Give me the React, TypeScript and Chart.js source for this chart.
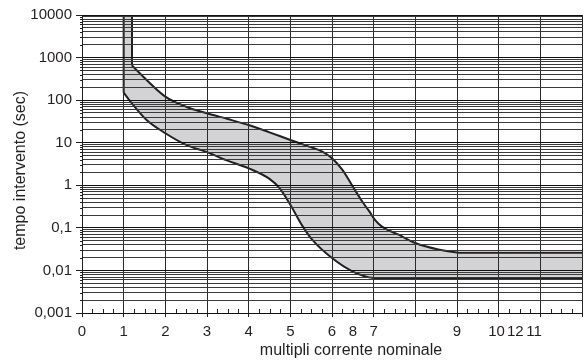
import React, { useEffect, useRef } from 'react';
import { Chart, registerables } from 'chart.js';

Chart.register(...registerables);

// Top of the chart (vertical parts of both boundaries start here)
const topValue = 10000;

// Upper boundary of the tripping band, from its knee (multiples of In -> seconds)
const upperX = [1.2, 1.47, 2.0, 2.5, 3.0, 3.5, 4.0, 4.5, 5.0, 5.45, 5.77, 6.0, 6.25, 6.5, 6.73, 6.9, 7.03, 7.2, 7.6, 8.0, 8.55, 9.0, 9.3, 12];
const upperY = [650, 356, 121, 70, 49, 36, 26, 17.5, 11.6, 8.1, 6.2, 4.3, 2.3, 0.93, 0.41, 0.24, 0.154, 0.107, 0.069, 0.044, 0.031, 0.0265, 0.026, 0.026];

// Lower boundary of the tripping band, from its knee
const lowerX = [1.0, 1.2, 1.55, 2.0, 2.5, 3.0, 3.46, 4.0, 4.5, 4.74, 5.0, 5.3, 5.53, 6.0, 6.5, 7.0, 7.6, 12];
const lowerY = [150, 83, 34, 16.7, 8.9, 6.0, 3.9, 2.5, 1.41, 0.855, 0.35, 0.107, 0.052, 0.0195, 0.0094, 0.0066, 0.0063, 0.0063];

// Y axis decades and their labels
const yDecades = [0.001, 0.01, 0.1, 1, 10, 100, 1000, 10000];
const yDecadeLabels = ['0,001', '0,01', '0,1', '1', '10', '100', '1000', '10000'];

// X axis labels as printed on the original (value -> text)
const xLabelValues = [0, 1, 2, 3, 4, 5, 6, 6.5, 7, 9, 9.95, 10.4, 10.85];
const xLabelTexts = ['0', '1', '2', '3', '4', '5', '6', '8', '7', '9', '10', '12', '11'];

const xMin = 0;
const xMax = 12;
const xMinorStep = 0.25;

const xTitle = 'multipli corrente nominale';
const yTitle = 'tempo intervento (sec)';

const INK = '#231f20';
const BAND = '#d3d3d5';
const FONT = '"Liberation Sans", Arial, Helvetica, sans-serif';

const toPoints = (xs: number[], ys: number[]) => xs.map((x, i) => ({ x, y: ys[i] }));

const isInt = (v: number) => Math.abs(v - Math.round(v)) < 1e-6;
const isDecade = (v: number) => {
  const l = Math.log10(v);
  return Math.abs(l - Math.round(l)) < 1e-6;
};

export default function App() {
  const ref = useRef<HTMLCanvasElement | null>(null);

  useEffect(() => {
    document.body.style.margin = '0';
    document.body.style.overflow = 'hidden';
    const canvas = ref.current;
    if (!canvas) return;

    const upper = toPoints(upperX, upperY);
    const lower = toPoints(lowerX, lowerY);
    const upperVert = [{ x: upperX[0], y: topValue }, { x: upperX[0], y: upperY[0] }];
    const lowerVert = [{ x: lowerX[0], y: topValue }, { x: lowerX[0], y: lowerY[0] }];
    const strip = lower.slice(0, 2);

    const minorCount = Math.round((xMax - xMin) / xMinorStep);
    const xQuarter: number[] = [];
    for (let i = 0; i <= minorCount; i++) xQuarter.push(xMin + i * xMinorStep);
    const xTickVals = Array.from(new Set([...xQuarter, ...xLabelValues])).sort((a, b) => a - b);

    const yTickVals: number[] = [];
    yDecades.forEach((d, i) => {
      yTickVals.push(d);
      if (i < yDecades.length - 1) for (let m = 2; m <= 9; m++) yTickVals.push(m * d);
    });

    const xLabelFor = (v: number) => {
      const i = xLabelValues.findIndex((lv) => Math.abs(lv - v) < 1e-6);
      return i >= 0 ? xLabelTexts[i] : '';
    };
    const yLabelFor = (v: number) => {
      const i = yDecades.findIndex((d) => Math.abs(Math.log10(d) - Math.log10(v)) < 1e-6);
      return i >= 0 ? yDecadeLabels[i] : '';
    };

    const decor = {
      id: 'decor',
      afterDraw(chart: any) {
        const { ctx, chartArea: a, scales } = chart;
        const xs = scales.x;
        const ys = scales.y;
        ctx.save();
        ctx.strokeStyle = INK;
        ctx.lineWidth = 1;
        ctx.beginPath();
        xQuarter.forEach((v) => {
          if (isInt(v)) return;
          const px = Math.round(xs.getPixelForValue(v)) + 0.5;
          ctx.moveTo(px, a.bottom);
          ctx.lineTo(px, a.bottom - 4);
        });
        yTickVals.forEach((v) => {
          if (isDecade(v)) return;
          const py = Math.round(ys.getPixelForValue(v)) + 0.5;
          ctx.moveTo(a.left - 2, py);
          ctx.lineTo(a.left, py);
        });
        ctx.stroke();

        ctx.fillStyle = INK;
        ctx.font = '16px ' + FONT;
        ctx.textAlign = 'center';
        ctx.textBaseline = 'alphabetic';
        ctx.fillText(xTitle, (a.left + a.right) / 2 + 19, 355);

        ctx.translate(25, (a.top + a.bottom) / 2 + 6.5);
        ctx.rotate(-Math.PI / 2);
        ctx.fillText(yTitle, 0, 0);
        ctx.restore();
      },
    };

    const stroke = {
      showLine: true,
      borderColor: INK,
      borderWidth: 2,
      pointRadius: 0,
      backgroundColor: BAND,
    };

    const chart = new Chart(canvas, {
      type: 'scatter',
      data: {
        datasets: [
          { ...stroke, data: upper, fill: 1, cubicInterpolationMode: 'monotone' },
          { ...stroke, data: lower, fill: false, cubicInterpolationMode: 'monotone' },
          { ...stroke, data: upperVert, fill: false, tension: 0 },
          { ...stroke, data: lowerVert, fill: false, tension: 0 },
          { ...stroke, data: strip, fill: 'end', borderWidth: 0, borderColor: 'rgba(0,0,0,0)', tension: 0 },
        ],
      },
      options: {
        responsive: false,
        animation: false,
        devicePixelRatio: 1,
        layout: { padding: { top: 15, right: 3, left: 0, bottom: 0 } },
        plugins: {
          legend: { display: false },
          tooltip: { enabled: false },
          filler: { drawTime: 'beforeDatasetsDraw' },
        },
        scales: {
          x: {
            type: 'linear',
            min: xMin,
            max: xMax,
            afterBuildTicks: (scale: any) => {
              scale.ticks = xTickVals.map((v) => ({ value: v }));
            },
            afterFit: (scale: any) => {
              scale.height = 49;
            },
            grid: {
              z: 1,
              color: (c: any) => (c.tick && isInt(c.tick.value) ? '#2a2a2a' : 'rgba(0,0,0,0)'),
              tickColor: (c: any) => (c.tick && isInt(c.tick.value) ? INK : 'rgba(0,0,0,0)'),
              tickLength: 4,
              lineWidth: 1,
            },
            border: { display: true, color: INK, width: 1, z: 1 },
            ticks: {
              autoSkip: false,
              maxRotation: 0,
              minRotation: 0,
              padding: 6,
              color: INK,
              font: { family: FONT, size: 15 },
              callback: (v: any) => xLabelFor(Number(v)),
            },
          },
          y: {
            type: 'logarithmic',
            min: 0.001,
            max: topValue,
            afterBuildTicks: (scale: any) => {
              scale.ticks = yTickVals.map((v) => ({ value: v }));
            },
            afterFit: (scale: any) => {
              scale.width = 82;
            },
            grid: {
              z: 1,
              color: (c: any) => (c.tick && isDecade(c.tick.value) ? '#111' : '#3a3a3a'),
              tickColor: (c: any) => (c.tick && isDecade(c.tick.value) ? INK : 'rgba(0,0,0,0)'),
              tickLength: 6,
              lineWidth: 1,
            },
            border: { display: true, color: INK, width: 1, z: 1 },
            ticks: {
              autoSkip: false,
              padding: 4,
              color: INK,
              font: { family: FONT, size: 15 },
              callback: (v: any) => yLabelFor(Number(v)),
            },
          },
        },
      },
      plugins: [decor],
    } as any);

    return () => chart.destroy();
  }, []);

  return (
    <canvas
      ref={ref}
      width={588}
      height={362}
      style={{ display: 'block', width: 588, height: 362 }}
    />
  );
}
